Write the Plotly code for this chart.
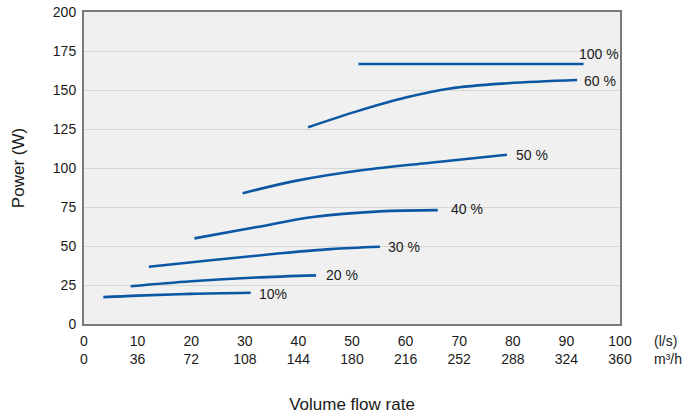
import plotly.graph_objects as go

# fan curves: volume flow (l/s) vs power (W) per control setting
x10 = [3.6, 10, 20, 31.1]
y10 = [17.2, 18.2, 19.3, 20.0]
x20 = [8.7, 20, 32, 43.3]
y20 = [24.2, 27.4, 29.8, 31.2]
x30 = [12.1, 25, 36.6, 46, 55.2]
y30 = [36.7, 41.3, 45.3, 48.0, 49.5]
x40 = [20.6, 32, 42.7, 55.2, 66.0]
y40 = [54.9, 62.0, 68.6, 72.2, 73.0]
x50 = [29.6, 39.7, 52.1, 64.6, 78.9]
y50 = [83.8, 91.9, 98.7, 103.4, 108.5]
x60 = [41.8, 50.9, 60.2, 68.3, 78.9, 92.0]
y60 = [126.1, 136.3, 145.3, 151.0, 154.3, 156.4]
x100 = [51.2, 93.2]
y100 = [166.7, 166.7]

curves = [(x10, y10), (x20, y20), (x30, y30), (x40, y40), (x50, y50), (x60, y60), (x100, y100)]

label_text = ['10%', '20 %', '30 %', '40 %', '50 %', '60 %', '100 %']
label_x = [35.3, 48.1, 59.7, 71.4, 83.5, 96.3, 96.0]
label_y = [19.2, 31.2, 49.2, 73.5, 108.5, 155.8, 173.0]

ls_ticks = [0, 10, 20, 30, 40, 50, 60, 70, 80, 90, 100]
m3h_ticks = [0, 36, 72, 108, 144, 180, 216, 252, 288, 324, 360]
power_ticks = [0, 25, 50, 75, 100, 125, 150, 175, 200]
unit_rows = ['(l/s)', 'm³/h']

blue = '#0b57a4'
font = 'Liberation Sans, Arial, sans-serif'

fig = go.Figure()

for cx, cy in curves:
    fig.add_trace(go.Scatter(x=cx, y=cy, mode='lines',
                             line=dict(color=blue, width=2.6, shape='spline', smoothing=1.0),
                             showlegend=False, hoverinfo='skip'))

for t, lx, ly in zip(label_text, label_x, label_y):
    fig.add_annotation(x=lx, y=ly, text=t, showarrow=False, xanchor='center', yanchor='middle',
                       font=dict(size=14, color='#1a1a1a', family=font))

# units at the end of the two tick rows
for unit, uy in zip(unit_rows, [-0.055, -0.113]):
    fig.add_annotation(xref='paper', yref='paper', x=1.06, y=uy, text=unit,
                       showarrow=False, xanchor='left', yanchor='middle',
                       font=dict(size=14, color='#1a1a1a', family=font))

fig.update_layout(
    width=693, height=418,
    margin=dict(l=84, r=73, t=12, b=94),
    paper_bgcolor='white',
    plot_bgcolor='#f0f0f0',
    font=dict(family=font, size=14, color='#1a1a1a'),
    xaxis=dict(range=[0, 100], tickmode='array', tickvals=ls_ticks,
               ticktext=[f'{a}<br>{b}' for a, b in zip(ls_ticks, m3h_ticks)],
               showgrid=False, zeroline=False, showline=True, mirror=True, automargin=False,
               linecolor='#7a7a7a', linewidth=2, ticks='', ticklabelstandoff=3,
               title=dict(text='Volume flow rate', font=dict(size=17), standoff=32)),
    yaxis=dict(range=[0, 200], tickmode='array', tickvals=power_ticks,
               showgrid=True, gridcolor='#d6d6d6', gridwidth=1, zeroline=False,
               showline=True, mirror=True, linecolor='#7a7a7a', linewidth=2, automargin=False,
               ticks='', ticklabelstandoff=3,
               title=dict(text='Power (W)', font=dict(size=17), standoff=24)),
)

# drop the browser's default 8px body margin so the figure sits at the page corner
fig.write_html("out.html", config={'displayModeBar': False},
               post_script="document.body.style.margin='0';")
